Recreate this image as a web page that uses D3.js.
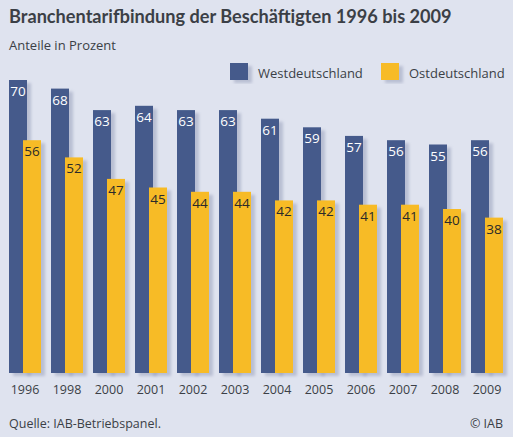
<!DOCTYPE html>
<html>
<head>
<meta charset="utf-8">
<script src="https://cdn.jsdelivr.net/npm/d3@7"></script>
<style>
  html, body { margin: 0; padding: 0; background: #dfe3ef; }
  svg { display: block; font-family: "Open Sans", "Noto Sans", sans-serif; }
</style>
</head>
<body>
<svg id="chart" width="513" height="437"></svg>
<script>
var years = ["1996", "1998", "2000", "2001", "2002", "2003", "2004", "2005", "2006", "2007", "2008", "2009"];
var west = [70, 68, 63, 64, 63, 63, 61, 59, 57, 56, 55, 56];
var east = [56, 52, 47, 45, 44, 44, 42, 42, 41, 41, 40, 38];
var seriesNames = ["Westdeutschland", "Ostdeutschland"];

var svg = d3.select("#chart"),
    width = +svg.attr("width"),
    height = +svg.attr("height");

var blue = "#445a8b",
    yellow = "#f7bb26",
    textCol = "#3b3f46";

svg.append("rect").attr("width", width).attr("height", height).attr("fill", "#dfe3ef");

var defs = svg.append("defs");
defs.append("filter")
    .attr("id", "shadow")
    .attr("x", "-20%").attr("y", "-10%").attr("width", "160%").attr("height", "130%")
  .append("feDropShadow")
    .attr("dx", 4).attr("dy", 3)
    .attr("stdDeviation", 1.5)
    .attr("flood-color", "#8a92b0")
    .attr("flood-opacity", 0.45);

// title
var title = svg.append("text")
    .attr("x", 9).attr("y", 23)
    .attr("font-family", "Lato, sans-serif")
    .attr("font-size", 19.5)
    .attr("font-weight", 700)
    .attr("fill", textCol)
    .text("Branchentarifbindung der Beschäftigten 1996 bis 2009");
// squeeze to the width it has in the original
var tw = title.node().getComputedTextLength();
if (tw > 443) title.attr("font-size", 19.5 * 443 / tw);

svg.append("text")
    .attr("x", 9).attr("y", 50)
    .attr("font-size", 13)
    .attr("fill", textCol)
    .text("Anteile in Prozent");

// scales
var baseline = 373;
var x = d3.scaleBand().domain(years).range([9, 9 + 42 * years.length]).paddingInner(0).paddingOuter(0);
var y = d3.scaleLinear().domain([0, 70]).range([381, 80]);
var barW = 18, offset = 14;

var groups = svg.append("g").selectAll("g")
    .data(years)
    .enter().append("g")
    .attr("transform", function(d) { return "translate(" + x(d) + ",0)"; });

groups.append("rect")
    .attr("x", 0)
    .attr("y", function(d, i) { return y(west[i]); })
    .attr("width", barW)
    .attr("height", function(d, i) { return baseline - y(west[i]); })
    .attr("fill", blue)
    .attr("filter", "url(#shadow)");

groups.append("rect")
    .attr("x", offset)
    .attr("y", function(d, i) { return y(east[i]); })
    .attr("width", barW)
    .attr("height", function(d, i) { return baseline - y(east[i]); })
    .attr("fill", yellow)
    .attr("filter", "url(#shadow)");

groups.append("text")
    .attr("x", barW / 2)
    .attr("y", function(d, i) { return y(west[i]) + 16; })
    .attr("text-anchor", "middle")
    .attr("font-size", 13.5)
    .attr("fill", "#ffffff")
    .text(function(d, i) { return west[i]; });

groups.append("text")
    .attr("x", offset + barW / 2)
    .attr("y", function(d, i) { return y(east[i]) + 16; })
    .attr("text-anchor", "middle")
    .attr("font-size", 13.5)
    .attr("fill", "#2a2a2a")
    .text(function(d, i) { return east[i]; });

// x axis labels
var xAxis = d3.axisBottom(x).tickSize(0).tickPadding(0);
var axisG = svg.append("g")
    .attr("transform", "translate(" + (offset / 2 + barW / 2 - x.bandwidth() / 2) + "," + 381 + ")")
    .call(xAxis);
axisG.select(".domain").remove();
axisG.selectAll("text")
    .attr("y", 13)
    .attr("dy", 0)
    .attr("font-size", 12.5)
    .attr("font-family", "\"Open Sans\", \"Noto Sans\", sans-serif")
    .attr("fill", textCol);

// legend
var legend = svg.append("g").selectAll("g")
    .data(seriesNames)
    .enter().append("g")
    .attr("transform", function(d, i) { return "translate(" + [230, 381][i] + ",63)"; });

legend.append("rect")
    .attr("width", 18).attr("height", 17)
    .attr("fill", function(d, i) { return i === 0 ? blue : yellow; })
    .attr("filter", "url(#shadow)");

legend.append("text")
    .attr("x", 28).attr("y", 15)
    .attr("font-size", 13)
    .attr("fill", textCol)
    .text(function(d) { return d; });

// footer
svg.append("text")
    .attr("x", 9).attr("y", 428)
    .attr("font-size", 12.5)
    .attr("fill", textCol)
    .text("Quelle: IAB-Betriebspanel.");

svg.append("text")
    .attr("x", 503).attr("y", 428)
    .attr("text-anchor", "end")
    .attr("font-size", 12.5)
    .attr("fill", textCol)
    .text("© IAB");
</script>
</body>
</html>
